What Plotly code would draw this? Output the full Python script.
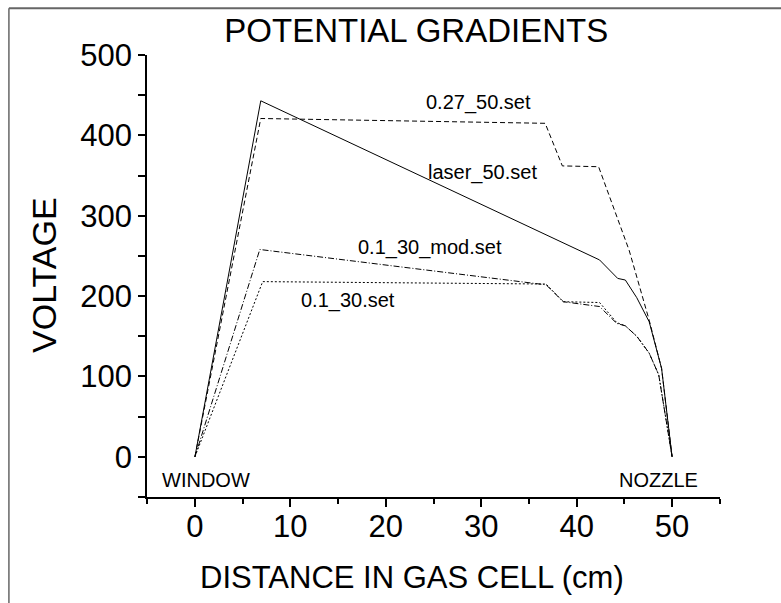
import plotly.graph_objects as go

# ---- data ----
laser_x = [0, 6.9, 42.4, 44.3, 45.1, 46.3, 47.6, 48.9, 50]
laser_y = [0, 443, 245, 222, 220, 198, 168, 110, 0]

s027_x = [0, 6.9, 36.7, 38.5, 42.3, 45.5, 47.6, 48.9, 50]
s027_y = [0, 421, 415, 362, 361, 257, 170, 110, 0]

mod_x = [0, 6.8, 36.8, 38.6, 42.4, 44.2, 45.1, 46.3, 47.6, 48.6, 50]
mod_y = [0, 258, 214, 193, 187, 166, 163, 150, 129, 102, 0]

s01_x = [0, 7.1, 36.8, 38.6, 42.4, 44.2, 45.1, 46.3, 47.6, 48.6, 50]
s01_y = [0, 218, 215, 193, 192, 167, 163, 150, 129, 102, 0]

labels = ["0.27_50.set", "laser_50.set", "0.1_30_mod.set", "0.1_30.set", "WINDOW", "NOZZLE"]
label_x = [29.7, 30.1, 24.6, 16.0, 1.15, 48.6]
label_y = [441, 354, 261, 195, -29, -29]

FONT = "Liberation Sans, Arial, sans-serif"

fig = go.Figure()
series = [
    (laser_x, laser_y, "laser_50.set", "solid"),
    (s027_x, s027_y, "0.27_50.set", "5px,3px"),
    (mod_x, mod_y, "0.1_30_mod.set", "6px,2px,1px,2px"),
    (s01_x, s01_y, "0.1_30.set", "2px,2px"),
]
for xs, ys, name, dash in series:
    fig.add_trace(go.Scatter(x=xs, y=ys, mode="lines", name=name,
                             line=dict(color="black", width=1, dash=dash)))

for t, x, y in zip(labels, label_x, label_y):
    fig.add_annotation(x=x, y=y, xref="x", yref="y", text=t, showarrow=False,
                       font=dict(family=FONT, size=20, color="black"),
                       xanchor="center", yanchor="middle")

# axis titles as annotations
fig.add_annotation(x=-0.18, y=0.502, xref="paper", yref="paper", text="VOLTAGE",
                   textangle=-90, showarrow=False,
                   font=dict(family=FONT, size=34, color="black"),
                   xanchor="center", yanchor="middle")
fig.add_annotation(x=0.4625, y=-0.183, xref="paper", yref="paper",
                   text="DISTANCE IN GAS CELL (cm)", showarrow=False,
                   font=dict(family=FONT, size=31, color="black"),
                   xanchor="center", yanchor="middle")

# frame lines of the original picture
fig.add_shape(type="line", xref="paper", yref="paper", x0=-0.241, x1=1.2,
              y0=1.106, y1=1.106, line=dict(color="#666666", width=2))
fig.add_shape(type="line", xref="paper", yref="paper", x0=-0.241, x1=-0.241,
              y0=1.106, y1=-0.3, line=dict(color="#666666", width=1.5))

fig.update_layout(
    width=781, height=603,
    margin=dict(l=147, r=61, t=55, b=106),
    paper_bgcolor="white", plot_bgcolor="white",
    showlegend=False,
    title=dict(text="POTENTIAL GRADIENTS", x=0.533, xref="container", xanchor="center",
               y=0.950, yref="container", yanchor="middle",
               font=dict(family=FONT, size=33, color="black")),
    xaxis=dict(range=[-5.02, 55.02], showgrid=False, zeroline=False,
               showline=True, linecolor="black", linewidth=1.5,
               tickmode="linear", tick0=0, dtick=10, ticks="outside", ticklen=8,
               tickwidth=1.5, tickcolor="black", ticklabelstandoff=-7,
               tickfont=dict(family=FONT, size=31, color="black"),
               minor=dict(dtick=5, tick0=0, ticks="outside", ticklen=5, tickwidth=1.5,
                          tickcolor="black", showgrid=False)),
    yaxis=dict(range=[-50, 500], showgrid=False, zeroline=False,
               showline=True, linecolor="black", linewidth=1.5,
               tickmode="linear", tick0=0, dtick=100, ticks="outside", ticklen=7,
               tickwidth=1.5, tickcolor="black",
               tickfont=dict(family=FONT, size=31, color="black"),
               minor=dict(dtick=50, tick0=0, ticks="outside", ticklen=7, tickwidth=1.5,
                          tickcolor="black", showgrid=False)),
)

fig.write_html("out.html")
